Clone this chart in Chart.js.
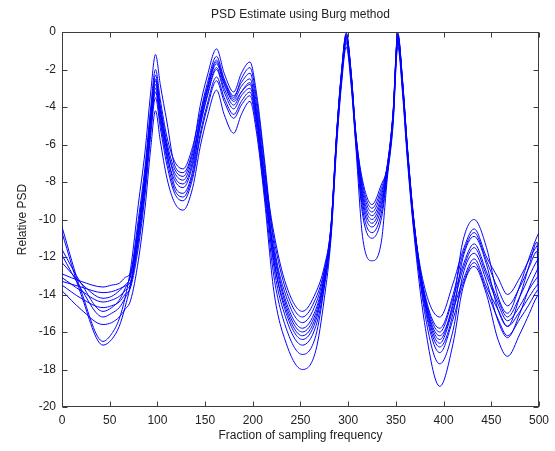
<!DOCTYPE html>
<html>
<head>
<meta charset="utf-8">
<script src="https://cdn.jsdelivr.net/npm/chart.js@4.4.1/dist/chart.umd.min.js"></script>
<style>
  html, body { margin: 0; padding: 0; background: #fff; }
  #wrap { position: relative; width: 555px; height: 451px; }
</style>
</head>
<body>
<div id="wrap"><canvas id="psd"></canvas></div>
<script>
// shared frequency grid (x) and one PSD trace per realisation
const freqs = [0, 20, 43, 52, 60, 66, 72, 80, 87, 93, 98, 103, 110, 118, 127, 137, 145, 152, 162, 170, 180, 188, 197, 204, 212, 222, 235, 252, 266, 275, 282, 288, 293, 298, 303, 308, 315, 325, 335, 341, 347, 352, 357, 362, 369, 380, 396, 410, 420, 432, 445, 457, 467, 480, 490, 498, 500];

const psd1  = [-10.4, -13.8, -16.5, -16.1, -15.3, -14.2, -12.6, -9.2, -6.4, -3.2, -1.2, -2.8, -4.8, -7.1, -7.5, -6.3, -3.9, -2.4, -0.9, -2.2, -3.2, -2.2, -1.6, -3.3, -6.7, -11.3, -14.1, -15.5, -14.5, -12.8, -10.3, -5.3, -2.1, -0.05, -2.1, -5.4, -8.1, -9.4, -8.3, -7.1, -4.3, -0.05, -2.6, -6.1, -10.1, -14.1, -16.2, -14.4, -11.2, -10.0, -11.5, -14.1, -15.0, -13.5, -12.0, -10.9, -10.7];
const psd2  = [-10.7, -14.0, -16.7, -16.4, -15.7, -14.7, -13.4, -10.5, -7.7, -4.5, -2.5, -4.1, -6.1, -7.7, -8.1, -6.9, -4.5, -3.0, -1.5, -2.6, -3.5, -2.5, -1.9, -3.6, -7.0, -12.0, -14.8, -16.2, -15.2, -13.2, -10.4, -5.4, -2.2, -0.2, -2.2, -5.5, -8.5, -9.8, -8.7, -7.1, -4.3, -0.1, -2.6, -6.1, -10.1, -14.4, -16.8, -15.0, -12.1, -10.9, -12.4, -14.8, -15.7, -14.1, -12.4, -11.2, -15.9];
const psd3  = [-11.6, -13.4, -14.9, -14.7, -14.3, -13.7, -12.9, -10.0, -7.2, -4.0, -2.0, -3.6, -5.6, -6.9, -7.3, -6.1, -4.3, -2.8, -1.3, -2.5, -3.4, -2.7, -2.2, -3.9, -7.3, -10.7, -13.5, -14.9, -13.9, -12.5, -10.3, -5.3, -2.1, -0.1, -2.1, -5.4, -7.9, -9.2, -8.1, -7.2, -4.4, -0.2, -2.7, -6.2, -10.2, -13.6, -15.2, -13.4, -11.7, -10.5, -12.0, -13.1, -14.0, -13.1, -12.1, -11.4, -11.3];
const psd4  = [-11.9, -13.7, -15.2, -15.0, -14.7, -14.2, -13.5, -10.8, -8.0, -4.8, -2.8, -4.4, -6.4, -8.2, -8.6, -7.4, -4.9, -3.4, -1.9, -3.0, -3.9, -3.2, -2.7, -4.4, -7.8, -12.5, -15.3, -16.7, -15.7, -13.5, -10.5, -5.5, -2.3, -0.3, -2.3, -5.6, -9.1, -10.4, -9.3, -7.3, -4.5, -0.3, -2.8, -6.3, -10.3, -14.9, -17.7, -15.9, -13.0, -11.8, -13.3, -15.4, -16.3, -15.0, -13.6, -12.7, -12.5];
const psd5  = [-12.3, -13.4, -14.2, -14.1, -13.8, -13.5, -13.0, -10.3, -7.5, -4.3, -2.3, -3.9, -5.9, -7.3, -7.7, -6.5, -4.6, -3.1, -1.6, -2.7, -3.6, -2.9, -2.5, -4.2, -7.6, -11.0, -13.8, -15.2, -14.2, -12.7, -10.4, -5.4, -2.2, -0.2, -2.2, -5.5, -8.3, -9.6, -8.5, -7.2, -4.4, -0.2, -2.7, -6.2, -10.2, -13.9, -15.8, -14.0, -11.9, -10.7, -12.2, -13.7, -14.6, -13.6, -12.5, -11.7, -15.3];
const psd6  = [-12.9, -13.3, -13.6, -13.5, -13.4, -13.1, -12.8, -10.6, -7.8, -4.6, -2.6, -4.2, -6.2, -7.5, -7.9, -6.7, -4.7, -3.2, -1.7, -2.8, -3.7, -3.2, -2.8, -4.5, -7.9, -11.6, -14.4, -15.8, -14.8, -13.0, -10.5, -5.5, -2.3, -0.3, -2.3, -5.6, -8.7, -10.0, -8.9, -7.3, -4.5, -0.3, -2.8, -6.3, -10.3, -14.0, -16.0, -14.2, -12.5, -11.3, -12.8, -14.3, -15.2, -14.1, -13.0, -12.2, -12.1];
const psd7  = [-13.1, -13.8, -14.4, -14.3, -14.1, -13.8, -13.4, -11.0, -8.2, -5.0, -3.0, -4.6, -6.6, -7.9, -8.3, -7.1, -5.0, -3.5, -2.0, -3.2, -4.1, -3.4, -3.0, -4.7, -8.1, -11.8, -14.6, -16.0, -15.0, -13.1, -10.6, -5.6, -2.4, -0.4, -2.4, -5.7, -8.9, -10.2, -9.1, -7.4, -4.6, -0.4, -2.9, -6.4, -10.4, -14.2, -16.4, -14.6, -12.7, -11.5, -13.0, -14.5, -15.4, -14.6, -13.7, -13.1, -13.0];
const psd8  = [-13.3, -13.6, -13.9, -13.85, -13.7, -13.55, -13.3, -11.2, -8.4, -5.2, -3.2, -4.8, -6.8, -8.4, -8.8, -7.6, -5.4, -3.9, -2.4, -3.5, -4.4, -3.7, -3.2, -4.9, -8.3, -12.2, -15.0, -16.4, -15.4, -13.3, -10.7, -5.7, -2.5, -0.5, -2.5, -5.8, -9.4, -10.7, -9.6, -7.5, -4.7, -0.5, -3.0, -6.5, -10.5, -14.3, -16.6, -14.8, -13.3, -12.1, -13.6, -14.8, -15.7, -14.9, -14.1, -13.5, -13.4];
const psd9  = [-13.5, -14.2, -14.7, -14.6, -14.4, -14.0, -13.6, -11.5, -8.7, -5.5, -3.5, -5.1, -7.1, -8.6, -9.0, -7.8, -5.6, -4.1, -2.6, -3.7, -4.6, -3.9, -3.4, -5.1, -8.5, -13.0, -15.8, -17.2, -16.2, -13.6, -10.8, -5.8, -2.6, -0.6, -2.6, -5.9, -9.7, -11.0, -9.9, -7.6, -4.8, -0.6, -3.1, -6.6, -10.6, -14.6, -17.1, -15.3, -13.5, -12.3, -13.8, -15.3, -16.2, -15.3, -14.5, -13.8, -13.7];
const psd10 = [-13.8, -14.8, -15.6, -15.5, -15.2, -14.8, -14.3, -12.2, -9.4, -6.2, -4.2, -5.8, -7.8, -9.1, -9.5, -8.3, -6.1, -4.6, -3.1, -4.4, -5.4, -4.4, -3.7, -5.4, -8.8, -13.8, -16.6, -18.0, -17.0, -14.2, -11.0, -6.0, -2.8, -0.8, -2.8, -6.1, -10.9, -12.2, -11.1, -7.8, -5.0, -0.8, -3.3, -6.8, -10.8, -15.5, -18.9, -16.6, -13.7, -12.5, -14.0, -16.4, -17.3, -16.1, -15.0, -14.1, -14.0];

const traces = [psd1, psd2, psd3, psd4, psd5, psd6, psd7, psd8, psd9, psd10];

const titleText = 'PSD Estimate using Burg method';
const xLabel = 'Fraction of sampling frequency';
const yLabel = 'Relative PSD';

const FONT = 'Liberation Sans, Arial, Helvetica, sans-serif';

// MATLAB style box: frame under the traces, inward ticks on all four sides, title over the axes
const matlabBox = {
  id: 'matlabBox',
  beforeDatasetsDraw(chart) {
    const { ctx, chartArea: a, scales: { x, y } } = chart;
    const L = Math.round(a.left) + 0.5, R = Math.round(a.right) - 0.5;
    const T = Math.round(a.top) + 0.5, B = Math.round(a.bottom) - 0.5;
    const tick = 5;
    ctx.save();
    ctx.strokeStyle = '#3c3c3c';
    ctx.lineWidth = 1;
    ctx.strokeRect(L, T, R - L, B - T);
    ctx.beginPath();
    x.ticks.forEach(t => {
      const px = Math.round(x.getPixelForValue(t.value)) + 0.5;
      ctx.moveTo(px, B); ctx.lineTo(px, B - tick);
      ctx.moveTo(px, T); ctx.lineTo(px, T + tick);
    });
    y.ticks.forEach(t => {
      const py = Math.round(y.getPixelForValue(t.value)) + 0.5;
      ctx.moveTo(L, py); ctx.lineTo(L + tick, py);
      ctx.moveTo(R, py); ctx.lineTo(R - tick, py);
    });
    ctx.stroke();

    ctx.fillStyle = '#222';
    ctx.font = '12px ' + FONT;
    ctx.textAlign = 'center';
    ctx.textBaseline = 'middle';
    ctx.fillText(titleText, (a.left + a.right) / 2, 15);
    ctx.restore();
  }
};

new Chart(document.getElementById('psd'), {
  type: 'line',
  data: {
    datasets: traces.map(tr => ({
      data: tr.map((v, i) => ({ x: freqs[i], y: v })),
      borderColor: '#0000ff',
      borderWidth: 1,
      pointRadius: 0,
      fill: false,
      cubicInterpolationMode: 'monotone'
    }))
  },
  options: {
    responsive: true,
    maintainAspectRatio: false,
    animation: false,
    layout: { padding: { left: 0, right: 16, top: 32, bottom: 0 } },
    plugins: { legend: { display: false }, title: { display: false }, tooltip: { enabled: false } },
    scales: {
      x: {
        type: 'linear',
        min: 0, max: 500,
        ticks: { stepSize: 50, color: '#222', padding: 6, maxRotation: 0, font: { family: FONT, size: 12 } },
        grid: { display: false, drawTicks: false },
        border: { display: false },
        title: { display: true, text: xLabel, color: '#222', font: { family: FONT, size: 12 }, padding: { top: 0, bottom: 8 } },
        afterFit(scale) { scale.height = 44; }
      },
      y: {
        min: -20, max: 0,
        ticks: { stepSize: 2, color: '#222', padding: 6, font: { family: FONT, size: 12 } },
        grid: { display: false, drawTicks: false },
        border: { display: false },
        title: { display: true, text: yLabel, color: '#222', font: { family: FONT, size: 12 }, padding: { top: 15, bottom: 0 } },
        afterFit(scale) { scale.width = 62; }
      }
    }
  },
  plugins: [matlabBox]
});
</script>
</body>
</html>
